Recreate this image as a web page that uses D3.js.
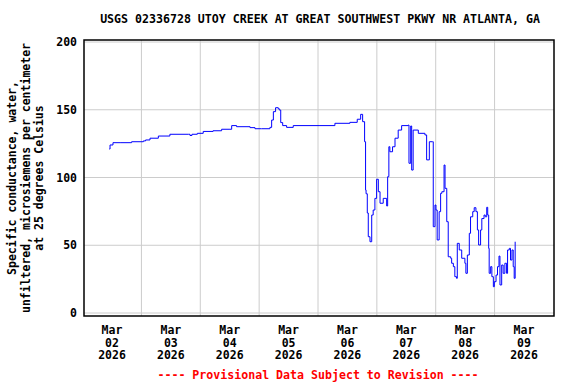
<!DOCTYPE html>
<html>
<head>
<meta charset="utf-8">
<script src="https://cdn.jsdelivr.net/npm/d3@7"></script>
<style>
  body { margin: 0; background: #fff; }
  text { font-family: "DejaVu Sans Mono", monospace; font-weight: bold; }
</style>
</head>
<body>
<div id="chart"></div>
<script>
const title = "USGS 02336728 UTOY CREEK AT GREAT SOUTHWEST PKWY NR ATLANTA, GA";
const yLabelLines = [
  "Specific conductance, water,",
  "unfiltered, microsiemens per centimeter",
  "at 25 degrees Celsius"
];
const footer = "---- Provisional Data Subject to Revision ----";
const yTicks = [0, 50, 100, 150, 200];
const dayLabels = ["02", "03", "04", "05", "06", "07", "08", "09"];

// hours after 2026-03-02 00:00
const hours = [
  -1.1, -0.8, 0.4, 3.3, 8.0, 12.8, 13.7, 15.5, 18.9, 23.6, 31.1, 31.8, 32.6, 34.8,
  37.2, 41.2, 44.7, 48.1, 48.8, 50.8, 56.3, 58.3, 61.0, 64.4, 65.1, 65.8, 66.7,
  67.8, 68.2, 68.8, 69.6, 71.2, 73.9, 84.8, 90.9, 97.0, 100.0, 101.4, 102.2, 103.0,
  103.4, 103.6, 104.1, 104.5, 105.2, 105.9, 106.5, 107.2, 107.9, 108.6, 109.3,
  110.6, 112.0, 112.4, 112.9, 113.3, 114.4, 115.4, 116.7, 118.1, 120.8, 121.1,
  121.8, 122.2, 122.8, 124.9, 127.6, 128.3, 129.4, 130.7, 131.0, 131.7, 132.1,
  132.6, 133.4, 134.0, 134.5, 135.4, 135.8, 136.5, 137.1, 138.1, 138.5, 139.2,
  139.8, 140.5, 140.8, 141.6, 142.6, 143.9, 144.3, 144.9, 145.7, 146.2, 147.1,
  147.7, 148.4, 149.0, 149.5, 150.3, 150.8, 151.7, 152.2, 152.8, 153.2, 153.6,
  153.8, 154.4, 154.9, 155.5, 155.9, 156.6, 157.2, 157.8, 158.2, 158.9, 159.5,
  160.2, 160.9, 161.3, 162.0, 162.5, 163.1, 163.6, 164.0, 164.4
];
const conductance = [
  121, 124, 125.7, 125.7, 126.4, 127, 127.7, 129, 130.6, 131.9, 131.9, 131, 131.9, 132.6,
  134, 134.5, 135.6, 135.6, 138.3, 137.5, 136.8, 136, 136, 137, 142.4, 148.6, 151.5,
  150.8, 149.8, 140.5, 138.3, 137, 138.3, 138.3, 140, 140.7, 143, 146.6, 141.2, 126.4,
  90.8, 88, 73.8, 56.3, 52.6, 72.3, 76, 84.6, 98.7, 89.5, 81,
  84.6, 79, 100.6, 122.7, 119, 122.7, 129, 135, 138.3, 138.7, 110.5,
  138, 105.5, 135, 132.6, 131.4, 113, 126.4, 126.4, 63.7, 79.7, 76,
  53.9, 74.8, 88.3, 89.5, 109.2, 92, 67.4, 41.5, 40.4, 36.7, 34.2,
  26.8, 25.6, 51.4, 46.5, 40.4, 36.7, 29.3, 42.8, 58.8, 71, 74.8,
  77.7, 74.8, 61.3, 50.2, 61.3, 69.7, 72.3, 71, 78, 72.3, 47.7,
  29.3, 34.2, 26.8, 19.4, 23.1, 28, 34.2, 42, 20.7, 35.4, 29.3,
  36.7, 29.3, 46.5, 47.7, 39.1, 46.5, 34.2, 25.6, 52.6
];

const W = 576, H = 384;
const box = { left: 84, right: 554, top: 40, bottom: 316 };
const start = new Date(2026, 2, 2);
const hourMs = 3600 * 1000;

const svg = d3.select("#chart").append("svg")
  .attr("width", W).attr("height", H);

const x = d3.scaleTime()
  .domain([start, d3.timeDay.offset(start, 7)])
  .range([112, 524]);
const y = d3.scaleLinear().domain([0, 200]).range([313, 42]);

const data = hours.map((h, i) => ({ t: new Date(+start + h * hourMs), v: conductance[i] }));

// grid
const noons = d3.range(7).map((i) => new Date(+start + (i * 24 + 12) * hourMs));
svg.selectAll(".vgrid").data(noons).enter().append("line")
  .attr("x1", (d) => x(d)).attr("x2", (d) => x(d))
  .attr("y1", box.top).attr("y2", box.bottom)
  .attr("stroke", "#cccccc").attr("stroke-width", 1);
svg.selectAll(".hgrid").data(yTicks).enter().append("line")
  .attr("x1", box.left).attr("x2", box.right)
  .attr("y1", (d) => y(d)).attr("y2", (d) => y(d))
  .attr("stroke", "#cccccc").attr("stroke-width", 1);

// data line
svg.append("path").datum(data)
  .attr("fill", "none").attr("stroke", "#0000ff").attr("stroke-width", 1)
  .attr("d", d3.line().curve(d3.curveStepAfter).x((d) => x(d.t)).y((d) => y(d.v)));

// frame
svg.append("rect")
  .attr("x", box.left).attr("y", box.top)
  .attr("width", box.right - box.left).attr("height", box.bottom - box.top)
  .attr("fill", "none").attr("stroke", "#000").attr("stroke-width", 1.5);

// y tick labels
svg.selectAll(".ylab").data(yTicks).enter().append("text")
  .attr("x", 77).attr("y", (d) => y(d)).attr("dy", "0.35em")
  .attr("text-anchor", "end").style("font-size", "11.5px")
  .text((d) => d);

// x tick labels
const xl = svg.selectAll(".xlab").data(dayLabels).enter().append("text")
  .attr("text-anchor", "middle").style("font-size", "11.5px")
  .attr("transform", (d, i) => `translate(${x(d3.timeDay.offset(start, i))},334)`);
xl.append("tspan").attr("x", 0).attr("y", 0).text("Mar");
xl.append("tspan").attr("x", 0).attr("y", 12.7).text((d) => d);
xl.append("tspan").attr("x", 0).attr("y", 25.4).text("2026");

// y axis label
svg.append("g").attr("transform", "translate(0,178) rotate(-90)")
  .selectAll("text").data(yLabelLines).enter().append("text")
  .attr("x", 0).attr("y", (d, i) => 16 + i * 13.5)
  .attr("text-anchor", "middle").style("font-size", "11.5px")
  .text((d) => d);

// title
svg.append("text").attr("x", 320).attr("y", 23)
  .attr("text-anchor", "middle").style("font-size", "11.6px").text(title);

// footer
svg.append("text").attr("x", 318).attr("y", 379)
  .attr("text-anchor", "middle").style("font-size", "11.6px")
  .attr("fill", "#ff0000").text(footer);
</script>
</body>
</html>
